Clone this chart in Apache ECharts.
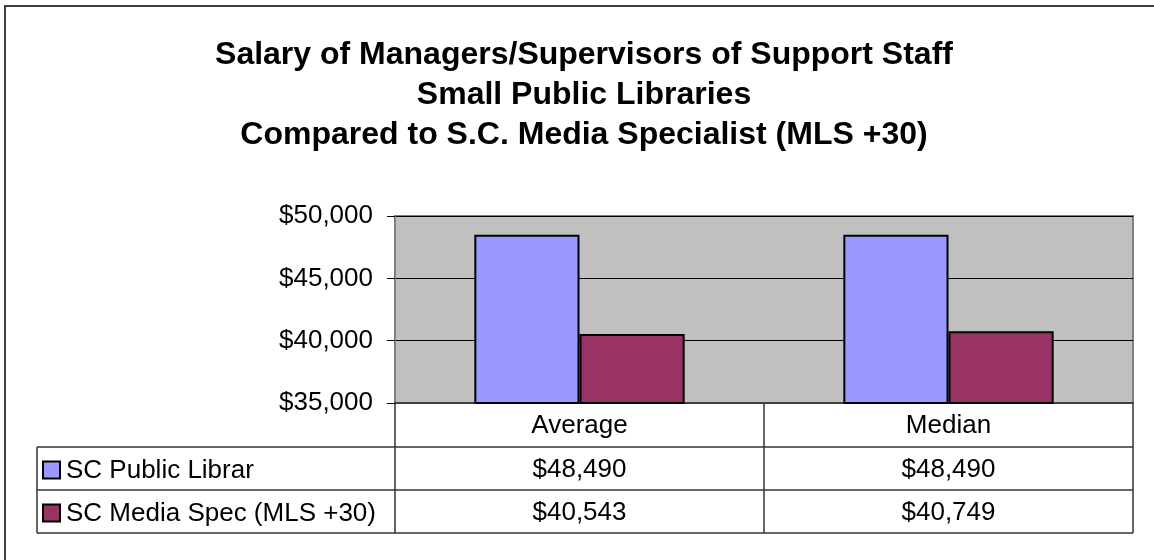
<!DOCTYPE html>
<html>
<head>
<meta charset="utf-8">
<title>Salary of Managers/Supervisors of Support Staff</title>
<script src="https://cdn.jsdelivr.net/npm/echarts@6/dist/echarts.min.js"></script>
<style>
  html, body { margin: 0; padding: 0; background: #ffffff; }
  #chart { width: 1154px; height: 560px; }
</style>
</head>
<body>
<div id="chart"></div>
<script>
// Categories and series values
const categories = ['Average', 'Median'];
const publicLibrary = [48490, 48490];
const mediaSpecialist = [40543, 40749];
const seriesNames = ['SC Public Librar', 'SC Media Spec (MLS +30)'];
const seriesColors = ['#9999FF', '#993366'];
const yTicks = [35000, 40000, 45000, 50000];

const titleLines = [
  'Salary of Managers/Supervisors of Support Staff',
  'Small Public Libraries',
  'Compared to S.C. Media Specialist (MLS +30)'
];

const FONT = '"Liberation Sans", Arial, sans-serif';
const LABEL_SIZE = 26;

function money(v) {
  return '$' + Number(v).toLocaleString('en-US');
}

// Plot area geometry
const G = { left: 395, top: 216, width: 738, height: 187 };
const gRight = G.left + G.width;
const gBottom = G.top + G.height;
const rowH = 43;
const tableLeft = 37;
const lineColor = '#333333';

const chart = echarts.init(document.getElementById('chart'), null, { renderer: 'canvas' });

// Table row axes: header (categories), then one row per series value
const tableRows = [null, publicLibrary, mediaSpecialist];
const xAxes = tableRows.map((row, i) => ({
  type: 'category',
  data: categories,
  gridIndex: 0,
  position: 'bottom',
  offset: i * rowH,
  axisLine: i === 0 ? { show: true, lineStyle: { color: '#404040', width: 2 } } : { show: false },
  axisTick: { show: false },
  splitLine: { show: false },
  axisLabel: {
    show: true,
    margin: i === 0 ? 10 : 11,
    fontFamily: FONT,
    fontSize: LABEL_SIZE,
    lineHeight: 26,
    color: '#000',
    formatter: i === 0 ? (v) => v : (v, idx) => money(row[idx])
  }
}));

// Table grid lines and legend keys
const graphics = [];
function hline(x1, x2, y) {
  graphics.push({ type: 'line', shape: { x1, y1: y, x2, y2: y }, style: { stroke: lineColor, lineWidth: 1.5 }, silent: true });
}
function vline(x, y1, y2) {
  graphics.push({ type: 'line', shape: { x1: x, y1, x2: x, y2 }, style: { stroke: lineColor, lineWidth: 1.5 }, silent: true });
}
const catW = G.width / categories.length;
for (let r = 1; r <= 3; r++) hline(tableLeft, gRight, gBottom + r * rowH + 1);
vline(tableLeft, gBottom + rowH + 1, gBottom + 3 * rowH + 1);
for (let c = 0; c <= categories.length; c++) vline(G.left + c * catW, gBottom, gBottom + 3 * rowH + 1);

seriesNames.forEach((name, i) => {
  const cy = gBottom + (i + 1) * rowH + rowH / 2 + 2;
  graphics.push({
    type: 'rect',
    shape: { x: 43, y: cy - 8, width: 17, height: 17 },
    style: { fill: seriesColors[i], stroke: '#000', lineWidth: 2 },
    silent: true
  });
  graphics.push({
    type: 'text',
    x: 66, y: cy + 1,
    style: { text: name, fontFamily: FONT, fontSize: LABEL_SIZE, fill: '#000', verticalAlign: 'middle', align: 'left' },
    silent: true
  });
});

// Outer frame
graphics.push({
  type: 'rect',
  shape: { x: 5, y: 6, width: 1300, height: 700 },
  style: { fill: 'none', stroke: '#404040', lineWidth: 2 },
  silent: true
});

const option = {
  backgroundColor: '#ffffff',
  animation: false,
  title: {
    text: titleLines.join('\n'),
    left: 584,
    textAlign: 'center',
    top: 35,
    padding: 0,
    textStyle: { fontFamily: FONT, fontWeight: 'bold', fontSize: 32, lineHeight: 40, color: '#000' }
  },
  grid: {
    left: G.left, top: G.top, width: G.width, height: G.height,
    show: true,
    backgroundColor: '#C0C0C0',
    borderColor: '#808080',
    borderWidth: 2
  },
  xAxis: xAxes,
  yAxis: {
    type: 'value',
    min: yTicks[0],
    max: yTicks[yTicks.length - 1],
    interval: 5000,
    axisLine: { show: true, lineStyle: { color: '#808080', width: 2 } },
    axisTick: { show: true, length: 8, lineStyle: { color: '#000', width: 1 } },
    splitLine: { show: true, lineStyle: { color: '#000', width: 1 } },
    axisLabel: {
      margin: 22,
      fontFamily: FONT,
      fontSize: LABEL_SIZE,
      color: '#000',
      formatter: (v) => money(v)
    }
  },
  series: [
    {
      name: seriesNames[0],
      type: 'bar',
      data: publicLibrary,
      barGap: '0%',
      barCategoryGap: '43%',
      itemStyle: { color: seriesColors[0], borderColor: '#000', borderWidth: 2 }
    },
    {
      name: seriesNames[1],
      type: 'bar',
      data: mediaSpecialist,
      itemStyle: { color: seriesColors[1], borderColor: '#000', borderWidth: 2 }
    }
  ],
  graphic: graphics
};

chart.setOption(option);
</script>
</body>
</html>
